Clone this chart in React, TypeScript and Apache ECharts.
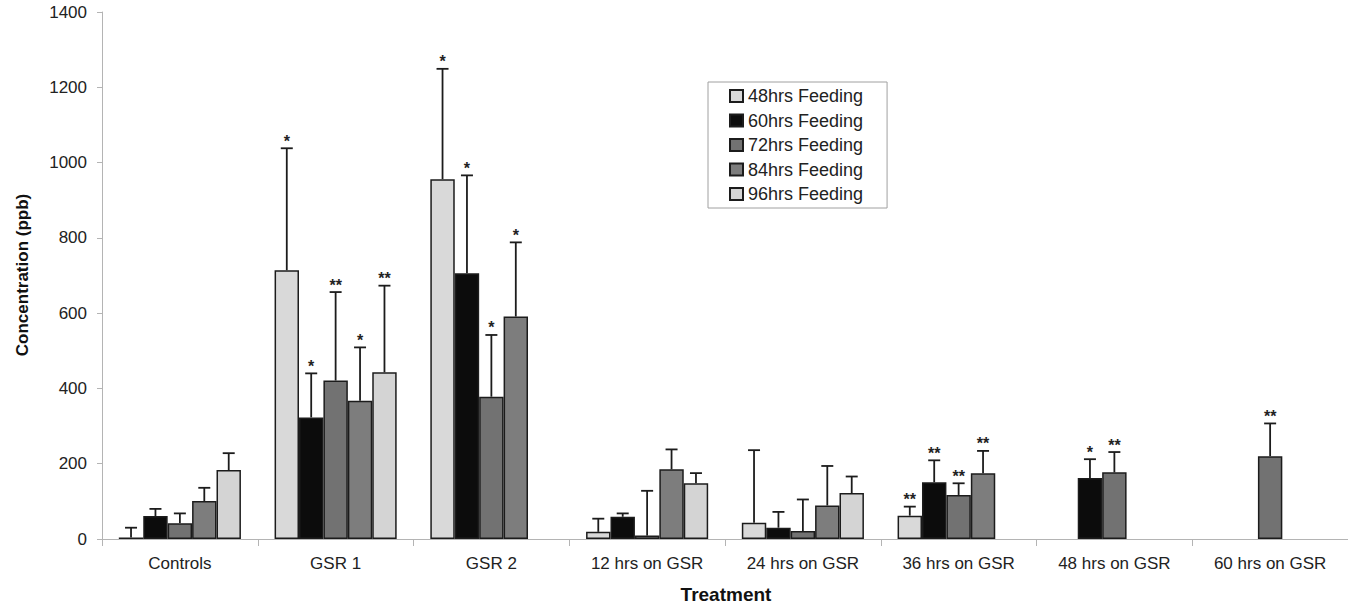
import React, { useEffect, useRef } from "react";
import * as echarts from "echarts";

const categories = [
  "Controls",
  "GSR 1",
  "GSR 2",
  "12 hrs on GSR",
  "24 hrs on GSR",
  "36 hrs on GSR",
  "48 hrs on GSR",
  "60 hrs on GSR",
];
const seriesNames = [
  "48hrs Feeding",
  "60hrs Feeding",
  "72hrs Feeding",
  "84hrs Feeding",
  "96hrs Feeding",
];
const seriesColors = ["#d9d9d9", "#0c0c0c", "#727272", "#7d7d7d", "#d4d4d4"];

// means (ppb)
const mean48 = [4, 714, 956, 19, 43, 62, null, null];
const mean60 = [61, 323, 706, 59, 30, 151, 162, null];
const mean72 = [42, 421, 378, 9, 21, 117, 177, 220];
const mean84 = [101, 367, 591, 185, 89, 175, null, null];
const mean96 = [183, 443, null, 148, 122, null, null, null];

// standard deviations (upper error bar)
const sd48 = [26, 324, 293, 35, 193, 24, null, null];
const sd60 = [19, 117, 260, 9, 42, 58, 50, null];
const sd72 = [26, 235, 164, 119, 84, 31, 54, 87];
const sd84 = [35, 142, 197, 53, 105, 59, null, null];
const sd96 = [45, 230, null, 27, 44, null, null, null];

// significance marks
const sig48 = ["", "*", "*", "", "", "**", "", ""];
const sig60 = ["", "*", "*", "", "", "**", "*", ""];
const sig72 = ["", "**", "*", "", "", "**", "**", "**"];
const sig84 = ["", "*", "*", "", "", "**", "", ""];
const sig96 = ["", "**", "", "", "", "", "", ""];

const yTicks = [0, 200, 400, 600, 800, 1000, 1200, 1400];

const means = [mean48, mean60, mean72, mean84, mean96];
const sds = [sd48, sd60, sd72, sd84, sd96];
const sigs = [sig48, sig60, sig72, sig84, sig96];

const CAT_GAP = 0.216;
const FONT = "Liberation Sans";

export default function App() {
  const ref = useRef<HTMLDivElement>(null);

  useEffect(() => {
    if (!ref.current) return;
    const chart = echarts.init(ref.current, null, { renderer: "svg" });

    const errData: any[] = [];
    const errMeta: { sig: string }[] = [];
    means.forEach((arr, s) => {
      arr.forEach((v, c) => {
        const sd = sds[s][c];
        if (v == null || sd == null) return;
        errData.push([c, s, v, v + sd]);
        errMeta.push({ sig: sigs[s][c] });
      });
    });

    const barSeries = seriesNames.map((name, i) => ({
      name,
      type: "bar",
      data: means[i].map((v) => (v == null ? "-" : v)),
      barGap: "0%",
      barCategoryGap: CAT_GAP * 100 + "%",
      itemStyle: {
        color: seriesColors[i],
        borderColor: "#1c1c1c",
        borderWidth: 1.5,
      },
      emphasis: { disabled: true },
    }));

    const errSeries = {
      type: "custom",
      data: errData,
      encode: { x: 0, y: 3 },
      z: 5,
      silent: true,
      renderItem: (params: any, api: any) => {
        const cat = api.value(0);
        const s = api.value(1);
        const v = api.value(2);
        const top = api.value(3);
        const center = api.coord([cat, 0]);
        const catW = api.size([1, 0])[0];
        const barW = (catW * (1 - CAT_GAP)) / 5;
        const x = center[0] - 2.5 * barW + barW * (s + 0.5);
        const yBar = api.coord([cat, v])[1];
        const yTop = api.coord([cat, top])[1];
        const lineStyle = { stroke: "#1c1c1c", lineWidth: 1.8 };
        const children: any[] = [
          { type: "line", shape: { x1: x, y1: yBar, x2: x, y2: yTop }, style: lineStyle },
          { type: "line", shape: { x1: x - 6, y1: yTop, x2: x + 6, y2: yTop }, style: lineStyle },
        ];
        const sig = errMeta[params.dataIndex].sig;
        if (sig) {
          children.push({
            type: "text",
            x: x,
            y: yTop + 1,
            style: {
              text: sig,
              fill: "#222",
              font: "bold 16px " + FONT,
              align: "center",
              verticalAlign: "bottom",
            },
          });
        }
        return { type: "group", children };
      },
    };

    chart.setOption({
      animation: false,
      grid: { left: 102, right: 0, top: 12, bottom: 66 },
      legend: {
        orient: "vertical",
        left: 708,
        top: 82,
        data: seriesNames,
        icon: "rect",
        itemWidth: 13,
        itemHeight: 12,
        itemGap: 6.5,
        padding: [5, 24, 5, 21],
        borderColor: "#a0a0a0",
        borderWidth: 1,
        backgroundColor: "#fff",
        selectedMode: false,
        textStyle: { fontFamily: FONT, fontSize: 18, color: "#222", lineHeight: 18 },
      },
      xAxis: {
        type: "category",
        data: categories,
        axisLine: { lineStyle: { color: "#b4b4b4", width: 1 } },
        axisTick: { show: true, length: 7, lineStyle: { color: "#b4b4b4" } },
        axisLabel: { interval: 0, margin: 16, fontFamily: FONT, fontSize: 17, color: "#222" },
      },
      yAxis: {
        type: "value",
        min: yTicks[0],
        max: yTicks[yTicks.length - 1],
        interval: 200,
        axisLine: { show: true, lineStyle: { color: "#b4b4b4", width: 1 } },
        axisTick: { show: true, length: 5, lineStyle: { color: "#b4b4b4" } },
        splitLine: { show: false },
        axisLabel: {
          margin: 15,
          fontFamily: FONT,
          fontSize: 17,
          color: "#222",
          formatter: (v: number) => String(v),
        },
      },
      graphic: [
        {
          type: "text",
          x: 22,
          y: 275,
          rotation: Math.PI / 2,
          style: {
            text: "Concentration (ppb)",
            font: "bold 17px " + FONT,
            fill: "#111",
            align: "center",
            verticalAlign: "middle",
          },
        },
        {
          type: "text",
          x: 726,
          y: 594,
          style: {
            text: "Treatment",
            font: "bold 19px " + FONT,
            fill: "#111",
            align: "center",
            verticalAlign: "middle",
          },
        },
      ],
      series: [...barSeries, errSeries],
    });

    return () => chart.dispose();
  }, []);

  return (
    <div
      ref={ref}
      style={{ position: "absolute", left: 0, top: 0, width: 1348, height: 605, background: "#fff" }}
    />
  );
}
